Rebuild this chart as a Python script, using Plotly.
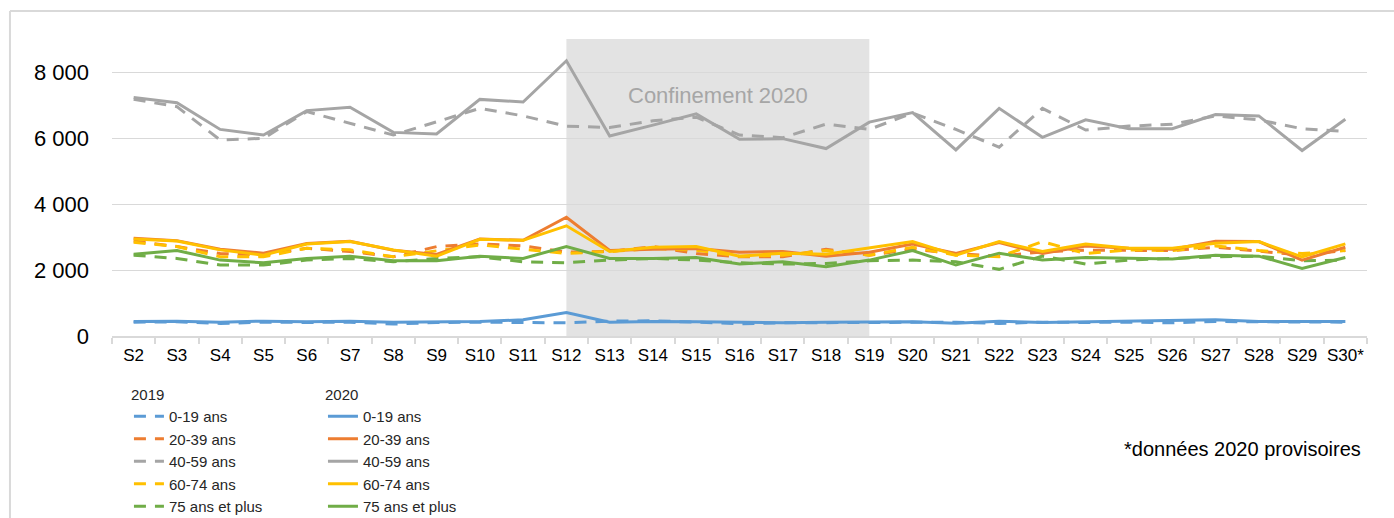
import plotly.graph_objects as go

categories = ["S2", "S3", "S4", "S5", "S6", "S7", "S8", "S9", "S10", "S11", "S12", "S13",
              "S14", "S15", "S16", "S17", "S18", "S19", "S20", "S21", "S22", "S23", "S24",
              "S25", "S26", "S27", "S28", "S29", "S30*"]

age_labels = ["0-19 ans", "20-39 ans", "40-59 ans", "60-74 ans", "75 ans et plus"]

# 2019 (dashed)
a0_19_2019 = [420, 430, 380, 420, 410, 420, 360, 410, 420, 400, 400, 450, 460, 420, 370,
              400, 410, 410, 420, 420, 380, 420, 410, 420, 400, 440, 430, 420, 420]
a20_39_2019 = [2880, 2710, 2500, 2450, 2660, 2560, 2400, 2710, 2790, 2730, 2540, 2560, 2710, 2500, 2400,
               2400, 2630, 2450, 2630, 2500, 2420, 2550, 2600, 2600, 2590, 2690, 2560, 2450, 2590]
a40_59_2019 = [7170, 6950, 5940, 5990, 6800, 6450, 6090, 6490, 6900, 6670, 6360, 6320, 6520, 6630, 6090,
               6010, 6420, 6260, 6760, 6260, 5720, 6900, 6240, 6360, 6420, 6670, 6550, 6280, 6200]
a60_74_2019 = [2840, 2710, 2400, 2400, 2660, 2610, 2400, 2590, 2760, 2630, 2500, 2560, 2650, 2600, 2420,
               2450, 2590, 2450, 2690, 2450, 2400, 2860, 2500, 2610, 2590, 2730, 2590, 2500, 2590]
a75_2019 = [2450, 2350, 2150, 2150, 2300, 2350, 2250, 2350, 2400, 2250, 2220, 2300, 2350, 2300, 2220,
            2180, 2200, 2280, 2300, 2250, 2020, 2420, 2180, 2300, 2350, 2400, 2420, 2280, 2300]

# 2020 (solid)
a0_19_2020 = [440, 445, 420, 450, 430, 450, 420, 430, 440, 490, 710, 420, 440, 430, 410,
              400, 420, 430, 430, 390, 450, 410, 430, 430, 450, 490, 440, 430, 440]
a20_39_2020 = [2960, 2890, 2630, 2510, 2800, 2870, 2600, 2470, 2940, 2900, 3600, 2590, 2630, 2650, 2540,
               2560, 2420, 2540, 2790, 2500, 2830, 2500, 2730, 2660, 2630, 2870, 2860, 2300, 2690]
a40_59_2020 = [7230, 7070, 6260, 6090, 6830, 6930, 6170, 6120, 7170, 7090, 8340, 6060, 6390, 6730, 5960,
               5980, 5680, 6480, 6770, 5640, 6900, 6020, 6550, 6280, 6280, 6710, 6670, 5620, 6570]
a60_74_2020 = [2940, 2880, 2610, 2450, 2790, 2860, 2610, 2420, 2930, 2900, 3340, 2560, 2690, 2710, 2420,
               2510, 2480, 2660, 2860, 2450, 2860, 2560, 2790, 2660, 2660, 2810, 2860, 2400, 2790]
a75_2020 = [2480, 2590, 2300, 2220, 2350, 2420, 2280, 2280, 2420, 2350, 2710, 2350, 2350, 2380, 2180,
            2250, 2100, 2300, 2590, 2150, 2510, 2300, 2380, 2350, 2330, 2450, 2420, 2050, 2380]

colors = ["#5B9BD5", "#ED7D31", "#A5A5A5", "#FFC000", "#70AD47"]
series_2019 = [a0_19_2019, a20_39_2019, a40_59_2019, a60_74_2019, a75_2019]
series_2020 = [a0_19_2020, a20_39_2020, a40_59_2020, a60_74_2020, a75_2020]

confinement_start = "S12"
confinement_end = "S19"
confinement_label = "Confinement 2020"
footnote = "*données 2020 provisoires"

FONT = "Liberation Sans, Arial, sans-serif"

fig = go.Figure()
for lab, col, vals in zip(age_labels, colors, series_2019):
    fig.add_trace(go.Scatter(x=categories, y=vals, mode="lines", name=lab,
                             line=dict(color=col, width=3, dash="12px,9px"),
                             legend="legend"))
for lab, col, vals in zip(age_labels, colors, series_2020):
    fig.add_trace(go.Scatter(x=categories, y=vals, mode="lines", name=lab,
                             line=dict(color=col, width=3),
                             legend="legend2"))

i0 = categories.index(confinement_start)
i1 = categories.index(confinement_end)
fig.add_shape(type="rect", xref="x", yref="y", x0=i0, x1=i1, y0=0, y1=9000,
              fillcolor="#e3e3e3", line=dict(width=0), layer="below")
fig.add_annotation(xref="x", yref="y", x=(i0 + i1) / 2, y=7300, text=confinement_label,
                   showarrow=False, font=dict(family=FONT, size=22, color="#a6a6a6"))
fig.add_annotation(xref="paper", yref="paper", x=0.997, y=-0.38, xanchor="right",
                   yanchor="middle", text=footnote, showarrow=False,
                   font=dict(family=FONT, size=20, color="#000000"))

# chart border (top and left edges visible)
fig.add_shape(type="line", xref="paper", yref="paper", x0=-0.0813, x1=1.05,
              y0=1.0943, y1=1.0943, line=dict(color="#d9d9d9", width=2))
fig.add_shape(type="line", xref="paper", yref="paper", x0=-0.0813, x1=-0.0813,
              y0=1.0943, y1=-0.65, line=dict(color="#d9d9d9", width=2))

legend_common = dict(orientation="v", xanchor="left", yanchor="top", yref="container", y=0.2656,
                     bgcolor="rgba(0,0,0,0)", font=dict(family=FONT, size=15, color="#262626"),
                     tracegroupgap=0, itemclick=False)
fig.update_layout(
    width=1394, height=518,
    margin=dict(l=112, r=27, t=39, b=182, autoexpand=False),
    paper_bgcolor="white", plot_bgcolor="white",
    separators=", ",
    showlegend=True,
    legend=dict(x=0.0135, title=dict(text="2019", font=dict(family=FONT, size=15, color="#262626")),
                **legend_common),
    legend2=dict(x=0.1681, title=dict(text="2020", font=dict(family=FONT, size=15, color="#262626")),
                 **legend_common),
    font=dict(family=FONT),
)
fig.update_xaxes(type="category", range=[-0.5, len(categories) - 0.5], showgrid=False,
                 showline=True, linecolor="#d9d9d9", linewidth=1.5,
                 ticks="outside", tickson="boundaries", ticklen=6, tickcolor="#d9d9d9", tickwidth=1.5,
                 tickangle=0,
                 tickfont=dict(family=FONT, size=17, color="#000000"), ticklabelstandoff=3)
fig.update_yaxes(range=[0, 9000], tick0=0, dtick=2000, tickformat=",d", showgrid=True,
                 gridcolor="#d9d9d9", gridwidth=1.3, zeroline=False, showline=False, ticks="",
                 tickfont=dict(family=FONT, size=22, color="#000000"), ticklabelstandoff=22)

fig.write_html("out.html", config={"displayModeBar": False},
               post_script="document.body.style.margin='0';document.body.style.overflow='hidden';")
